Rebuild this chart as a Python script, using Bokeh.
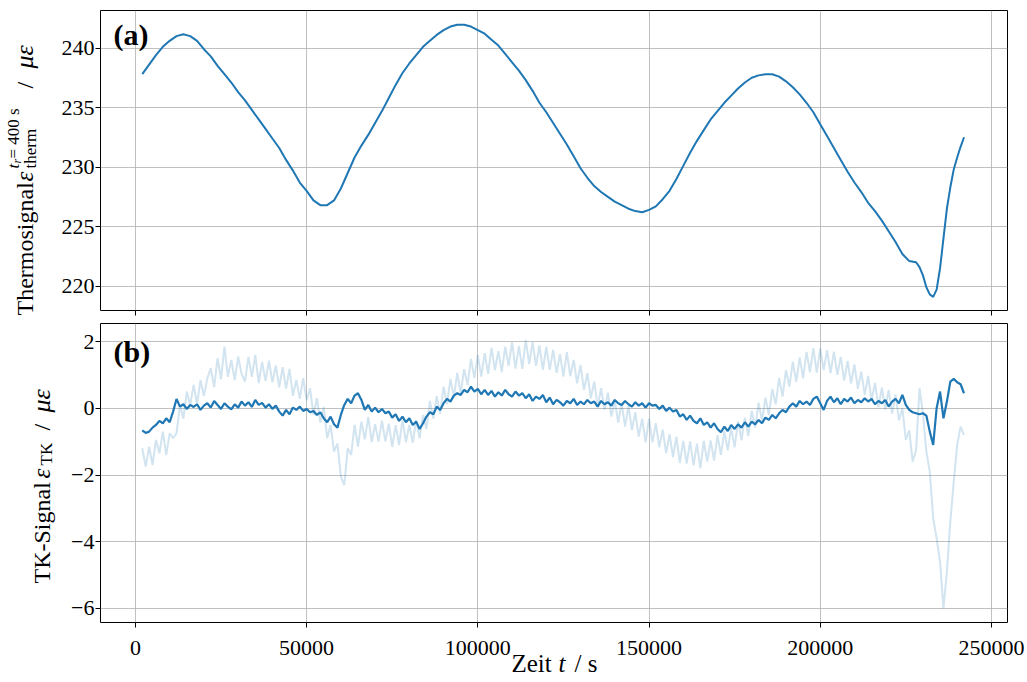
import math
from bokeh.plotting import figure
from bokeh.layouts import column, row
from bokeh.models import Range1d, FixedTicker, Label
from bokeh.core.properties import value
from bokeh.embed import file_html
from bokeh.resources import INLINE

# ---------------- data ----------------
t_therm = [2000, 4000, 6000, 8000, 10000, 12000, 14000, 16000, 18000, 20000,
           22000, 24000, 26000, 28000, 30000, 32000, 34000, 36000, 38000, 40000,
           42000, 44000, 46000, 48000, 50000, 52000, 54000, 56000, 58000, 60000,
           62000, 64000, 66000, 68000, 70000, 72000, 74000, 76000, 78000, 80000,
           82000, 84000, 86000, 88000, 90000, 92000, 94000, 96000, 98000, 100000,
           102000, 104000, 106000, 108000, 110000, 112000, 114000, 116000, 118000, 120000,
           122000, 124000, 126000, 128000, 130000, 132000, 134000, 136000, 138000, 140000,
           142000, 144000, 146000, 148000, 150000, 152000, 154000, 156000, 158000, 160000,
           162000, 164000, 166000, 168000, 170000, 172000, 174000, 176000, 178000, 180000,
           182000, 184000, 186000, 188000, 190000, 192000, 194000, 196000, 198000, 200000,
           202000, 204000, 206000, 208000, 210000, 212000, 214000, 216000, 218000, 220000,
           222000, 224000, 226000, 228000, 229000, 230000, 231000, 232000, 233000, 234000,
           235000, 236000, 237000, 238000, 239000, 240000, 241000, 242000]
therm = [237.8, 238.6, 239.4, 240.1, 240.6, 241.0, 241.15, 241.0, 240.6, 239.9,
         239.3, 238.5, 237.8, 237.1, 236.3, 235.6, 234.8, 234.0, 233.2, 232.4,
         231.6, 230.6, 229.7, 228.7, 228.0, 227.2, 226.8, 226.8, 227.2, 228.2,
         229.5, 230.8, 231.8, 232.7, 233.7, 234.7, 235.8, 236.9, 237.9, 238.7,
         239.4, 240.1, 240.6, 241.1, 241.5, 241.8, 241.95, 241.95, 241.8, 241.5,
         241.2, 240.7, 240.2, 239.5, 238.8, 238.1, 237.3, 236.4, 235.4, 234.6,
         233.7, 232.8, 231.9, 230.9, 229.9, 229.1, 228.4, 227.9, 227.5, 227.1,
         226.8, 226.5, 226.3, 226.2, 226.4, 226.7, 227.3, 228.0, 229.0, 230.1,
         231.2, 232.2, 233.1, 234.0, 234.7, 235.4, 236.0, 236.6, 237.1, 237.5,
         237.7, 237.8, 237.8, 237.6, 237.2, 236.7, 236.1, 235.4, 234.6, 233.6,
         232.6, 231.6, 230.6, 229.6, 228.7, 227.9, 227.0, 226.3, 225.5, 224.6,
         223.7, 222.7, 222.1, 222.0, 221.6, 220.9, 219.9, 219.3, 219.1, 219.7,
         221.5, 224.0, 226.5, 228.3, 229.8, 230.8, 231.7, 232.5]

t_tk = [2000, 3000, 4000, 5000, 6000, 7000, 8000, 9000, 10000, 11000,
        12000, 13000, 14000, 15000, 16000, 17000, 18000, 19000, 20000, 21000,
        22000, 23000, 24000, 25000, 26000, 27000, 28000, 29000, 30000, 31000,
        32000, 33000, 34000, 35000, 36000, 37000, 38000, 39000, 40000, 41000,
        42000, 43000, 44000, 45000, 46000, 47000, 48000, 49000, 50000, 51000,
        52000, 53000, 54000, 55000, 56000, 57000, 58000, 59000, 60000, 61000,
        62000, 63000, 64000, 65000, 66000, 67000, 68000, 69000, 70000, 71000,
        72000, 73000, 74000, 75000, 76000, 77000, 78000, 79000, 80000, 81000,
        82000, 83000, 84000, 85000, 86000, 87000, 88000, 89000, 90000, 91000,
        92000, 93000, 94000, 95000, 96000, 97000, 98000, 99000, 100000, 101000,
        102000, 103000, 104000, 105000, 106000, 107000, 108000, 109000, 110000, 111000,
        112000, 113000, 114000, 115000, 116000, 117000, 118000, 119000, 120000, 121000,
        122000, 123000, 124000, 125000, 126000, 127000, 128000, 129000, 130000, 131000,
        132000, 133000, 134000, 135000, 136000, 137000, 138000, 139000, 140000, 141000,
        142000, 143000, 144000, 145000, 146000, 147000, 148000, 149000, 150000, 151000,
        152000, 153000, 154000, 155000, 156000, 157000, 158000, 159000, 160000, 161000,
        162000, 163000, 164000, 165000, 166000, 167000, 168000, 169000, 170000, 171000,
        172000, 173000, 174000, 175000, 176000, 177000, 178000, 179000, 180000, 181000,
        182000, 183000, 184000, 185000, 186000, 187000, 188000, 189000, 190000, 191000,
        192000, 193000, 194000, 195000, 196000, 197000, 198000, 199000, 200000, 201000,
        202000, 203000, 204000, 205000, 206000, 207000, 208000, 209000, 210000, 211000,
        212000, 213000, 214000, 215000, 216000, 217000, 218000, 219000, 220000, 221000,
        222000, 223000, 224000, 225000, 226000, 227000, 228000, 229000, 230000, 231000,
        232000, 233000, 234000, 235000, 236000, 237000, 238000, 239000, 240000, 241000,
        242000]

tk_raw = [-1.20, -1.75, -1.15, -1.70, -0.95, -1.35, -0.70, -1.40, -0.75, -0.90,
          -0.75, 0.10, -0.31, 0.50, 0.10, 0.70, 0.12, 0.84, 0.37, 0.90,
          1.20, 0.63, 1.50, 0.87, 1.85, 0.94, 1.45, 0.84, 1.55, 1.03,
          0.80, 1.54, 0.94, 1.60, 0.75, 1.39, 0.82, 1.43, 0.78, 1.28,
          0.63, 1.23, 0.59, 1.18, 0.37, 0.85, 0.28, 0.90, 0.24, 0.60,
          -0.20, 0.30, -0.43, 0.04, -0.90, -0.50, -1.30, -1.06, -2.05, -2.30,
          -1.20, -1.40, -0.50, -1.15, -0.40, -0.93, -0.26, -1.01, -0.48, -1.00,
          -0.37, -0.99, -0.46, -1.16, -0.51, -1.10, -0.34, -1.02, -0.50, -1.03,
          -0.36, -0.90, -0.20, -0.62, 0.22, -0.31, 0.36, -0.17, 0.65, 0.12,
          0.88, 0.34, 1.06, 0.44, 1.17, 0.70, 1.48, 0.91, 1.59, 0.95,
          1.65, 1.03, 1.81, 1.14, 1.71, 1.08, 1.85, 1.27, 1.98, 1.19,
          1.86, 1.18, 2.05, 1.32, 1.98, 1.27, 1.88, 1.15, 1.85, 1.15,
          1.75, 1.06, 1.62, 0.95, 1.68, 0.96, 1.45, 0.75, 1.30, 0.55,
          1.05, 0.30, 0.80, 0.05, 0.60, -0.05, 0.47, -0.25, 0.23, -0.43,
          0.16, -0.55, 0.07, -0.65, -0.12, -0.85, -0.31, -1.02, -0.31, -1.02,
          -0.45, -1.17, -0.64, -1.35, -0.78, -1.46, -0.85, -1.64, -0.98, -1.66,
          -0.99, -1.71, -1.06, -1.80, -0.98, -1.60, -0.96, -1.57, -0.81, -1.40,
          -0.68, -1.26, -0.59, -1.17, -0.39, -0.96, -0.28, -0.83, -0.08, -0.58,
          0.17, -0.38, 0.32, -0.20, 0.58, 0.12, 0.91, 0.35, 1.14, 0.65,
          1.40, 0.79, 1.52, 0.90, 1.69, 1.08, 1.80, 1.07, 1.79, 1.14,
          1.74, 1.05, 1.70, 1.00, 1.54, 0.83, 1.42, 0.74, 1.31, 0.58,
          1.10, 0.40, 0.97, 0.24, 0.76, 0.03, 0.62, -0.04, 0.55, -0.16,
          0.41, -0.36, 0.00, -0.95, -0.66, -1.60, -1.25, 0.60, -0.15, -1.30,
          -1.90, -3.30, -3.90, -4.60, -6.00, -4.90, -3.40, -2.20, -1.10, -0.55,
          -0.80]

tk_comp = [-0.66, -0.74, -0.70, -0.58, -0.50, -0.38, -0.45, -0.30, -0.42, -0.10,
           0.28, 0.05, 0.12, -0.02, 0.10, 0.04, 0.12, -0.05, 0.08, 0.15,
           0.02, 0.22, 0.10, -0.02, 0.15, 0.05, -0.03, 0.12, 0.02, 0.20,
           0.08, 0.18, 0.04, 0.25, 0.10, 0.16, 0.02, 0.12, -0.02, 0.08,
           -0.10, -0.22, -0.05, -0.18, 0.02, -0.05, 0.05, -0.08, -0.02, -0.12,
           -0.08, -0.20, -0.12, -0.30, -0.42, -0.25, -0.48, -0.58, -0.20, 0.10,
           0.28, 0.15, 0.38, 0.45, 0.25, -0.05, 0.10, -0.10, 0.02, -0.12,
           -0.02, -0.15, -0.10, -0.28, -0.18, -0.38, -0.25, -0.42, -0.30, -0.50,
           -0.40, -0.62, -0.45, -0.25, -0.12, -0.18, 0.05, -0.05, 0.15, 0.28,
           0.20, 0.38, 0.45, 0.40, 0.55, 0.48, 0.65, 0.50, 0.58, 0.42,
           0.55, 0.40, 0.52, 0.35, 0.48, 0.38, 0.55, 0.42, 0.35, 0.50,
           0.38, 0.45, 0.30, 0.42, 0.22, 0.35, 0.28, 0.40, 0.18, 0.32,
           0.12, 0.25, 0.18, 0.08, 0.22, 0.15, 0.28, 0.10, 0.20, 0.12,
           0.25, 0.15, 0.20, 0.05, 0.22, 0.12, 0.18, 0.08, 0.25, 0.15,
           0.10, 0.22, 0.12, 0.05, 0.18, 0.08, 0.15, 0.02, 0.15, 0.08,
           0.10, -0.02, 0.08, -0.08, 0.02, -0.10, -0.05, -0.25, -0.18, -0.35,
           -0.22, -0.38, -0.45, -0.30, -0.50, -0.42, -0.58, -0.45, -0.62, -0.72,
           -0.55, -0.68, -0.50, -0.62, -0.48, -0.58, -0.42, -0.55, -0.40, -0.48,
           -0.35, -0.45, -0.28, -0.35, -0.20, -0.30, -0.15, -0.05, -0.12, 0.05,
           0.15, 0.05, 0.22, 0.12, 0.20, 0.10, 0.28, 0.35, 0.15, -0.05,
           0.22, 0.35, 0.18, 0.30, 0.12, 0.28, 0.20, 0.32, 0.15, 0.25,
           0.18, 0.30, 0.20, 0.28, 0.12, 0.22, 0.15, 0.25, 0.05, 0.20,
           0.28, 0.15, 0.40, 0.10, -0.05, -0.12, -0.15, -0.18, -0.15, -0.22,
           -0.70, -1.10, 0.00, 0.50, -0.30, 0.20, 0.80, 0.88, 0.78, 0.72,
           0.45]

x_ticks = [0, 50000, 100000, 150000, 200000, 250000]
x_tick_labels = ["0", "50000", "100000", "150000", "200000", "250000"]
therm_ticks = [220, 225, 230, 235, 240]
tk_ticks = [-6, -4, -2, 0, 2]
tk_tick_labels = {-6: "\u22126", -4: "\u22124", -2: "\u22122", 0: "0", 2: "2"}

# ---------------- geometry / styling ----------------
FONT = "Liberation Serif"
BLUE = "#1f77b4"
W = 1027
LW = 57            # width of the y-label strip
RW = W - LW        # width of the plot column
BL, BR = 43, 20    # frame borders inside the plot column
H_TOP = 318
H_BOT = 312
H_X = 682 - H_TOP - H_BOT

X0, X1 = -10200, 254700
x_range = Range1d(X0, X1)
per_px = (X1 - X0) / (RW - BL - BR)


def style(p):
    p.outline_line_color = "black"
    p.outline_line_width = 1
    for ax in (p.xaxis, p.yaxis):
        ax.axis_line_color = None
        ax.major_tick_out = 5
        ax.major_tick_in = 0
        ax.major_tick_line_color = "black"
        ax.minor_tick_line_color = None
        ax.major_label_text_font = FONT
        ax.major_label_text_font_size = "22px"
        ax.major_label_text_color = "black"
        ax.major_label_standoff = 1
    for g in (p.xgrid, p.ygrid):
        g.grid_line_color = "#b0b0b0"
        g.grid_line_alpha = 0.8
        g.grid_line_width = 1
    p.background_fill_color = "white"
    p.border_fill_color = "white"
    p.xaxis.major_label_text_color = None
    p.xaxis.major_label_text_font_size = "1px"
    p.xaxis.major_label_standoff = 0


def blank(width, height, xr, yr):
    f = figure(width=width, height=height, x_range=xr, y_range=yr,
               output_backend="svg", toolbar_location=None,
               x_axis_location=None, y_axis_location=None, min_border=0)
    f.xgrid.visible = False
    f.ygrid.visible = False
    f.outline_line_color = None
    f.background_fill_color = "white"
    f.border_fill_color = "white"
    return f


def put(f, text, x, y, size, style="normal", font=FONT, angle=0.0):
    f.add_layout(Label(x=x, y=y, x_units="canvas", y_units="data", text=text, angle=angle,
                       text_font=font, text_font_size=size, text_font_style=style,
                       text_color="black", text_align="left", text_baseline="alphabetic"))


# ---------------- top panel ----------------
p1 = figure(width=RW, height=H_TOP, x_range=x_range, y_range=Range1d(217.95, 243.15),
            output_backend="svg", toolbar_location=None,
            min_border_left=BL, min_border_right=BR, min_border_top=10, min_border_bottom=8)
style(p1)
p1.xaxis.ticker = FixedTicker(ticks=x_ticks)
p1.yaxis.ticker = FixedTicker(ticks=therm_ticks)
p1.line(t_therm, therm, line_color=BLUE, line_width=2)
p1.add_layout(Label(x=113 - LW, y=34, x_units="canvas", y_units="canvas", text="(a)",
                    text_font=FONT, text_font_size="30px", text_font_style="bold",
                    text_color="black", text_baseline="alphabetic"))

# ---------------- bottom panel ----------------
p2 = figure(width=RW, height=H_BOT, x_range=x_range, y_range=Range1d(-6.42, 2.54),
            output_backend="svg", toolbar_location=None,
            min_border_left=BL, min_border_right=BR, min_border_top=5, min_border_bottom=8)
style(p2)
p2.xaxis.ticker = FixedTicker(ticks=x_ticks)
p2.yaxis.ticker = FixedTicker(ticks=tk_ticks)
p2.yaxis.major_label_overrides = tk_tick_labels
p2.line(t_tk, tk_raw, line_color=BLUE, line_alpha=0.2, line_width=2)
p2.line(t_tk, tk_comp, line_color=BLUE, line_width=2.2)
p2.add_layout(Label(x=113 - LW, y=33, x_units="canvas", y_units="canvas", text="(b)",
                    text_font=FONT, text_font_size="30px", text_font_style="bold",
                    text_color="black", text_baseline="alphabetic"))

# ---------------- x tick labels and x label strip (full width) ----------------
LEFT = LW + BL
px = blank(W, H_X, Range1d(X0 - LEFT * per_px, X1 + BR * per_px), Range1d(H_X, 0))
px.text(x=x_ticks, y=17, text=x_tick_labels, text_font=value(FONT),
        text_font_size="22px", text_color="black", text_align="center",
        text_baseline="alphabetic")
put(px, "Zeit", 511, 33, "25px")
put(px, "t", 558, 33, "25px", "italic")
put(px, "/ s", 574, 33, "25px")

# ---------------- y label strip (page pixel coordinates) ----------------
L = blank(LW, H_TOP + H_BOT, Range1d(0, LW), Range1d(H_TOP + H_BOT, 0))
A = math.pi / 2
DX = -9
# top: Thermosignal eps_therm^{t_r=400 s} / mu eps
TB = 33
put(L, "Thermosignal", TB + DX, 315, "24px", angle=A)
put(L, "\u03b5", TB + DX, 181, "25px", "italic", angle=A)
put(L, "therm", TB + 6 + DX, 168, "17px", angle=A)
put(L, "t", TB - 11 + DX, 168, "17px", "italic", angle=A)
put(L, "r", TB - 8 + DX, 163, "12px", "italic", angle=A)
put(L, " = 400 s", TB - 11 + DX, 158, "17px", angle=A)
put(L, "/", TB + DX, 88, "24px", angle=A)
put(L, "\u03bc\u03b5", TB + DX, 68, "26px", "italic", angle=A)
# bottom: TK-Signal eps_TK / mu eps
BB = 50
put(L, "TK-Signal", BB + DX, 583, "24px", angle=A)
put(L, "\u03b5", BB + DX, 478, "25px", "italic", angle=A)
put(L, "TK", BB + 5 + DX, 465, "17px", angle=A)
put(L, "/", BB + DX, 430, "24px", angle=A)
put(L, "\u03bc\u03b5", BB + DX, 412, "26px", "italic", angle=A)

layout = column(row(L, column(p1, p2)), px)
open("out.html", "w").write(file_html(layout, INLINE))
